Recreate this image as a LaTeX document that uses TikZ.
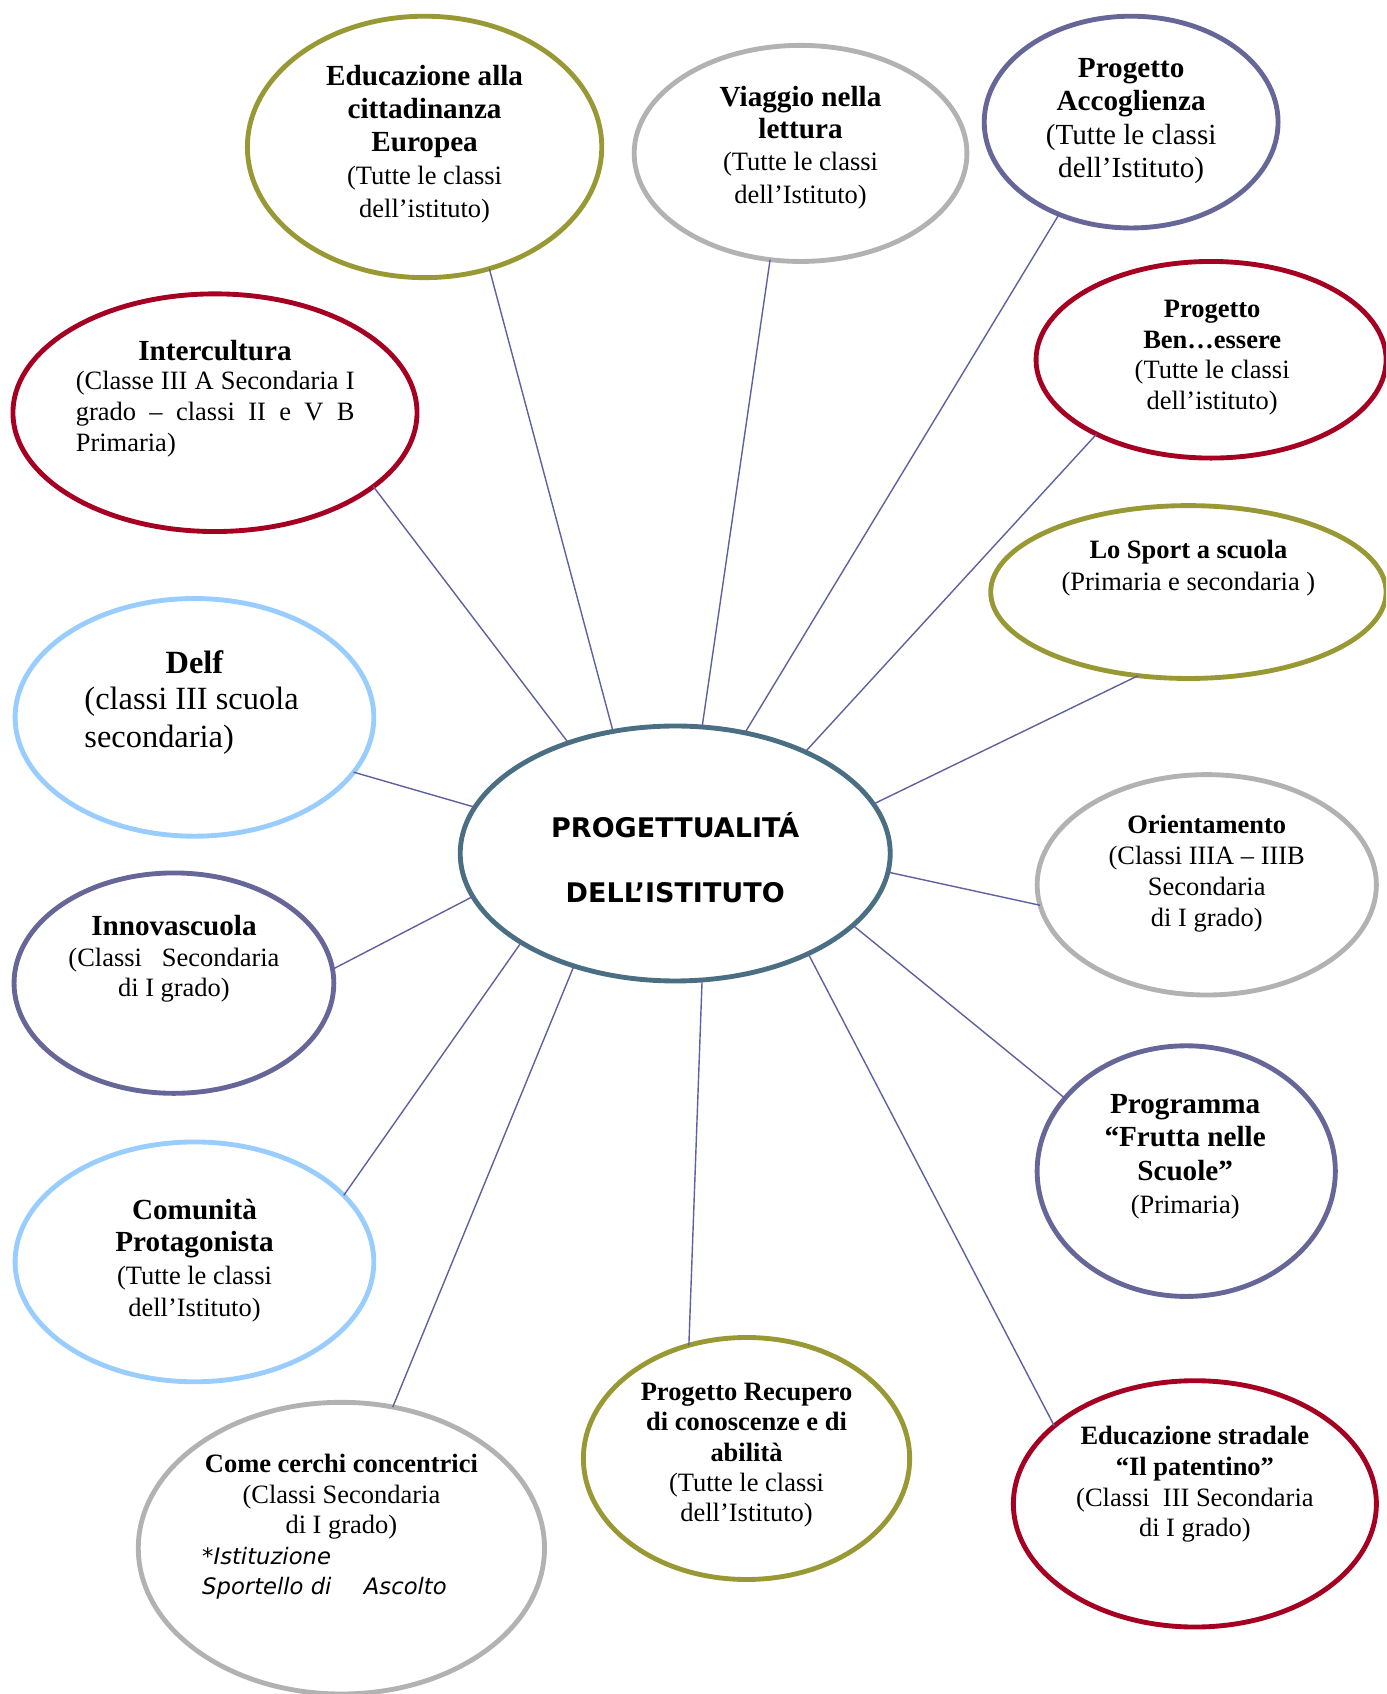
\documentclass[tikz,border=0pt]{standalone}
\usepackage{fontspec}
\setmainfont{Liberation Serif}
\newfontfamily\verd{DejaVu Sans}
\usetikzlibrary{shapes.geometric}
\definecolor{olv}{RGB}{152,152,52}
\definecolor{rd}{RGB}{165,0,33}
\definecolor{prp}{RGB}{102,102,153}
\definecolor{gry}{RGB}{178,178,178}
\definecolor{lbl}{RGB}{153,204,255}
\definecolor{ctrcol}{RGB}{74,110,130}
\definecolor{lncol}{RGB}{96,96,160}
\newcommand{\bigb}{\fontsize{27}{31}\selectfont\bfseries}
\newcommand{\regf}[1]{\fontsize{24.5}{#1}\selectfont}
\begin{document}
\begin{tikzpicture}[x=1pt,y=-1pt,
  ell/.style={ellipse, line width=4.5pt, inner sep=0pt, outer sep=0pt},
  lk/.style={draw=lncol, line width=1.3pt},
  txt/.style={align=center, inner sep=0pt, text=black}]
\useasboundingbox (0,0) rectangle (1283,1568);
\clip (0,0) rectangle (1283,1568);

% ellipses
\node[ell, draw=olv, minimum width=328pt, minimum height=242pt] (edu) at (393,136) {};
\node[ell, draw=gry, minimum width=308pt, minimum height=200pt] (via) at (741,142) {};
\node[ell, draw=prp, minimum width=272pt, minimum height=196pt] (acc) at (1047,113) {};
\node[ell, draw=rd, minimum width=324pt, minimum height=182pt] (ben) at (1121,333) {};
\node[ell, draw=olv, minimum width=366pt, minimum height=160pt] (spo) at (1100,548) {};
\node[ell, draw=gry, minimum width=314pt, minimum height=204pt] (ori) at (1117,819) {};
\node[ell, draw=prp, minimum width=276pt, minimum height=232pt] (pro) at (1098,1084) {};
\node[ell, draw=rd, minimum width=336pt, minimum height=228pt] (str) at (1106,1392) {};
\node[ell, draw=olv, minimum width=302pt, minimum height=224pt] (rec) at (691,1350) {};
\node[ell, draw=gry, minimum width=376pt, minimum height=270pt] (com) at (316,1433) {};
\node[ell, draw=lbl, minimum width=332pt, minimum height=222pt] (cpr) at (180,1168) {};
\node[ell, draw=prp, minimum width=296pt, minimum height=204pt] (inn) at (161,910) {};
\node[ell, draw=lbl, minimum width=332pt, minimum height=220pt] (del) at (180,664) {};
\node[ell, draw=rd, minimum width=374pt, minimum height=220pt] (int) at (199,382) {};
\node[ell, draw=ctrcol, minimum width=398pt, minimum height=236pt] (ctr) at (625,790) {};

% connectors
\draw[lk] (ctr.117) -- (edu.-62);
\draw[lk] (ctr.78) -- (via.-106);
\draw[lk] (ctr.60) -- (acc.-128);
\draw[lk] (ctr.38) -- (ben.-147);
\draw[lk] (ctr.14) -- (spo.-121);
\draw[lk] (ctr.-5) -- (ori.-173);
\draw[lk] (ctr.-22) -- (pro.149);
\draw[lk] (ctr.-37) -- (str.151);
\draw[lk] (ctr.-78) -- (rec.117);
\draw[lk] (ctr.-132) -- (com.70);
\draw[lk] (ctr.-150) -- (cpr.24);
\draw[lk] (ctr.-168) -- (inn.5);
\draw[lk] (ctr.167) -- (del.-19);
\draw[lk] (ctr.134) -- (int.-25);

% texts
\node[txt, font=\regf{30.5}] (tedu) at (393,133.5)
  {{\bigb Educazione alla}\\{\bigb cittadinanza}\\{\bigb Europea}\\(Tutte le classi\\dell’istituto)};
\node[txt, font=\regf{30}] (tvia) at (741,136.5)
  {{\bigb Viaggio nella}\\{\bigb lettura}\\(Tutte le classi\\dell’Istituto)};
\node[txt, font=\fontsize{27}{31}\selectfont] (tacc) at (1047,112)
  {{\bfseries Progetto}\\{\bfseries Accoglienza}\\(Tutte le classi\\dell’Istituto)};
\node[txt, font=\regf{28.5}] (tben) at (1122,331)
  {{\bfseries Progetto}\\{\bfseries Ben…essere}\\(Tutte le classi\\dell’istituto)};
\node[txt, font=\regf{29}] (tspo) at (1100,526)
  {{\bfseries Lo Sport a scuola}\\(Primaria e secondaria )};
\node[txt, font=\regf{28.7}] (tori) at (1117,808.5)
  {{\bfseries Orientamento}\\(Classi IIIA – IIIB\\Secondaria\\di I grado)};
\node[txt, font=\regf{31}] (tpro) at (1097,1070.5)
  {{\bigb Programma}\\{\bigb “Frutta nelle}\\{\bigb Scuole”}\\(Primaria)};
\node[txt, font=\regf{28.3}] (tstr) at (1106,1374)
  {{\bfseries Educazione stradale}\\{\bfseries “Il patentino”}\\(Classi\ \ III Secondaria\\di I grado)};
\node[txt, font=\regf{28}] (trec) at (691,1347)
  {{\bfseries Progetto Recupero}\\{\bfseries di conoscenze e di}\\{\bfseries abilità}\\(Tutte le classi\\dell’Istituto)};
\node[txt, font=\regf{28.5}] (tcom) at (316,1385.5)
  {{\bfseries Come cerchi concentrici}\\(Classi Secondaria\\di I grado)};
\node[txt, align=left, anchor=west, font=\verd\itshape\fontsize{21}{28}\selectfont] (tcom2) at (187,1456)
  {*Istituzione\\Sportello di\hspace{30pt}Ascolto};
\node[txt, font=\regf{30}] (tcpr) at (180,1167)
  {{\bigb Comunità}\\{\bigb Protagonista}\\(Tutte le classi\\dell’Istituto)};
\node[txt, font=\regf{28}] (tinn) at (161,887.5)
  {{\bigb Innovascuola}\\(Classi\ \ \ Secondaria\\di I grado)};
\node[txt, font=\fontsize{30}{35}\selectfont\bfseries] (tdel) at (180,613) {Delf};
\node[txt, align=left, anchor=west, font=\fontsize{30}{35}\selectfont] (tdel2) at (78,667)
  {(classi III scuola\\secondaria)};
\node[txt, font=\bigb] (tint) at (199,324.5) {Intercultura};
\node[txt, align=left, anchor=west, font=\regf{28.5}] (tint2) at (70,383.5)
  {\makebox[258pt][s]{(Classe III A Secondaria I}\\\makebox[258pt][s]{grado – classi II e V B}\\Primaria)};
\node[txt, font=\verd\bfseries\fontsize{25}{60}\selectfont] (tctr) at (625,794)
  {PROGETTUALITÁ\\DELL’ISTITUTO};
\end{tikzpicture}
\end{document}
